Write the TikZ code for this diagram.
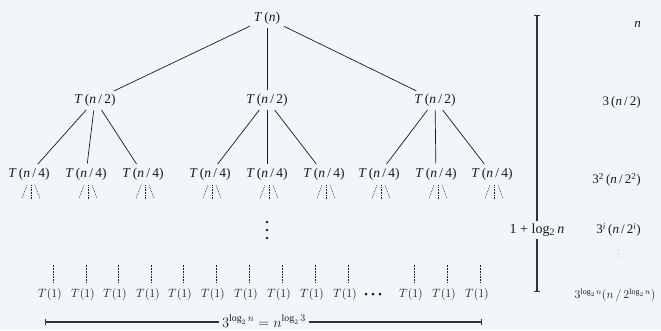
\documentclass[tikz,border=0pt]{standalone}
\usepackage{fontspec}
\setmainfont{Liberation Serif}
\usetikzlibrary{arrows.meta}
\definecolor{bg}{HTML}{F2F5F9}
\definecolor{ink}{HTML}{1A1A1A}
\tikzset{
  tn/.style={inner sep=2pt, font=\fontsize{13.5}{15}\selectfont, text=ink},
  tone/.style={inner sep=1pt, font=\fontsize{13}{15}\selectfont, text=ink},
  edge/.style={draw=ink, line width=0.7pt},
  dotl/.style={draw=ink, line width=0.5pt, dash pattern=on 0.8pt off 0.8pt},
  sumlab/.style={inner sep=1pt, font=\fontsize{13}{15}\selectfont, text=ink, anchor=east},
  barline/.style={draw=black!80, line width=1.1pt},
}
\newcommand{\Tf}[1]{\textit{T}\,(#1)}
\begin{document}
\begin{tikzpicture}[x=1pt,y=-1pt]
\fill[bg] (0,0) rectangle (661,330);
\useasboundingbox (0,0) rectangle (661,330);
% root
\node[tn] (r) at (267,18) {\Tf{\textit{n}}};
% level 1
\node[tn] (a) at (95,100) {\Tf{\textit{n}\,/\,2}};
\node[tn] (b) at (267,100) {\Tf{\textit{n}\,/\,2}};
\node[tn] (c) at (435,100) {\Tf{\textit{n}\,/\,2}};
\draw[edge, shorten <=2pt, shorten >=2pt] (r) -- (a);
\draw[edge, shorten <=2pt, shorten >=2pt] (r) -- (b);
\draw[edge, shorten <=2pt, shorten >=2pt] (r) -- (c);
% level 2
\foreach \n/\x in {a1/29,a2/86,a3/143,b1/210,b2/267,b3/324,c1/379,c2/436,c3/492}{
  \node[tn] (\n) at (\x,174) {\Tf{\textit{n}\,/\,4}};
  \draw[dotl] ([xshift=-2pt]\n.south) ++(0,3) -- ++(-5,13);
  \draw[dotl] ([xshift=2pt]\n.south) ++(0,3) -- ++(0,13);
  \draw[dotl] ([xshift=6pt]\n.south) ++(0,3) -- ++(5,13);
}
\foreach \p in {a,b,c}{
  \foreach \k in {1,2,3}{
    \draw[edge, shorten <=2pt, shorten >=2pt] (\p) -- (\p\k);
  }
}
% vertical dots
\foreach \yy in {222,230,238} \fill[ink] (267,\yy) circle (1.4);
% leaves
\foreach \n/\x in {l1/50,l2/83,l3/115,l4/148,l5/180,l6/213,l7/246,l8/279,l9/312,l10/345,l11/411,l12/444,l13/477}{
  \node[tone] (\n) at (\x,294) {$T(1)$};
  \draw[dotl] ([xshift=3pt]\n.north) ++(0,-4) -- ++(0,-18);
}
\foreach \xx in {366,373,380} \fill[ink] (\xx,294) circle (1.5);
% bottom width bar
\coordinate (bl) at (45,322);
\coordinate (br) at (482,322);
\draw[barline, {Bar[width=6pt]}-{Bar[width=6pt]}] (bl) -- (br);
\node[fill=bg, inner sep=3pt, font=\fontsize{14}{16}\selectfont, text=ink] (wl) at (264,321) {$3^{\log_2 n} = n^{\log_2 3}$};
% vertical height bar
\coordinate (vt) at (537,15);
\coordinate (vb) at (537,292);
\draw[barline, {Bar[width=6pt]}-{Bar[width=6pt]}] (vt) -- (vb);
\node[fill=bg, inner sep=3pt, font=\fontsize{14}{16}\selectfont, text=ink] (hl) at (537,230) {1 + log\textsubscript{2}\,\textit{n}};
% per-level sums
\node[sumlab] (s0) at (642,24) {\textit{n}};
\node[sumlab] (s1) at (642,102) {3\,(\textit{n}\,/\,2)};
\node[sumlab] (s2) at (642,180) {3\textsuperscript{2}\,(\textit{n}\,/\,2\textsuperscript{2})};
\node[sumlab] (s3) at (642,230) {3\textsuperscript{\textit{i}}\,(\textit{n}\,/\,2\textsuperscript{\textit{i}})};
\foreach \yy in {250,254,258} \fill[black!45] (618,\yy) circle (0.5);
\node[inner sep=1pt, font=\fontsize{12}{14}\selectfont, text=ink] (s4) at (615,295) {$3^{\log_2 n}(n\,/\,2^{\log_2 n})$};
\end{tikzpicture}
\end{document}
